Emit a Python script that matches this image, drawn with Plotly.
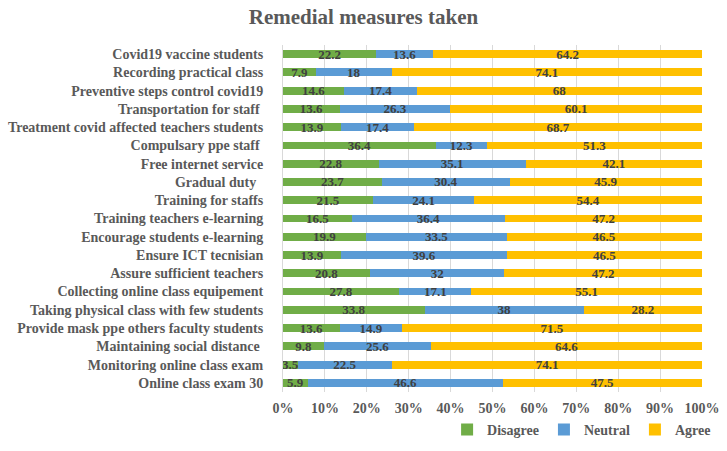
import plotly.graph_objects as go

categories = [
    "Covid19 vaccine students",
    "Recording practical class",
    "Preventive steps control covid19",
    "Transportation for staff\u00a0",
    "Treatment covid affected teachers students",
    "Compulsary ppe staff\u00a0",
    "Free internet service",
    "Gradual duty\u00a0\u00a0",
    "Training for staffs",
    "Training teachers e-learning",
    "Encourage students e-learning",
    "Ensure ICT tecnisian",
    "Assure sufficient teachers",
    "Collecting online class equipement",
    "Taking physical class with few students",
    "Provide mask ppe others faculty students",
    "Maintaining social distance\u00a0",
    "Monitoring online class exam",
    "Online class exam 30",
]
disagree = [22.2, 7.9, 14.6, 13.6, 13.9, 36.4, 22.8, 23.7, 21.5, 16.5, 19.9, 13.9, 20.8, 27.8, 33.8, 13.6, 9.8, 3.5, 5.9]
neutral = [13.6, 18, 17.4, 26.3, 17.4, 12.3, 35.1, 30.4, 24.1, 36.4, 33.5, 39.6, 32, 17.1, 38, 14.9, 25.6, 22.5, 46.6]
agree = [64.2, 74.1, 68, 60.1, 68.7, 51.3, 42.1, 45.9, 54.4, 47.2, 46.5, 46.5, 47.2, 55.1, 28.2, 71.5, 64.6, 74.1, 47.5]

series = [("Disagree", disagree, "#70AD47"), ("Neutral", neutral, "#5B9BD5"), ("Agree", agree, "#FFC000")]

FONT = "Liberation Serif"
fig = go.Figure()
for name, vals, color in series:
    fig.add_trace(go.Bar(
        name=name, y=categories, x=vals, orientation="h",
        marker=dict(color=color, line=dict(width=0)),
        text=[f"{v:g}" for v in vals], textposition="inside", textangle=0,
        insidetextanchor="middle", constraintext="none",
        textfont=dict(family=FONT, size=13, color="#404040", weight="bold"),
        hoverinfo="skip",
    ))

fig.update_layout(
    barmode="stack",
    width=727, height=451,
    margin=dict(l=283, r=25, t=45, b=59, autoexpand=False),
    paper_bgcolor="white", plot_bgcolor="white",
    bargap=0.57,
    title=dict(text="<b>Remedial measures taken</b>", x=0.5, xref="container", xanchor="center",
               y=0.962, yref="container", yanchor="middle",
               font=dict(family=FONT, size=21, color="#595959")),
    xaxis=dict(range=[0, 100], dtick=10, ticksuffix="%", showgrid=True, gridcolor="#D9D9D9",
               gridwidth=1, zeroline=False, showline=False, automargin=False,
               ticklabelstandoff=6,
               tickfont=dict(family=FONT, size=14, color="#595959", weight="bold")),
    yaxis=dict(autorange="reversed", showline=True, linecolor="#D9D9D9", ticks="",
               tickmode="array", tickvals=categories, ticktext=categories,
               ticklabelstandoff=16, automargin=False,
               tickfont=dict(family=FONT, size=14, color="#595959", weight="bold")),
    legend=dict(orientation="h", x=0.985, xref="container", xanchor="right",
                y=0.047, yref="container", yanchor="middle",
                font=dict(family=FONT, size=14, color="#595959", weight="bold"),
                itemwidth=30, traceorder="normal"),
    showlegend=True,
)
fig.write_html("out.html")
